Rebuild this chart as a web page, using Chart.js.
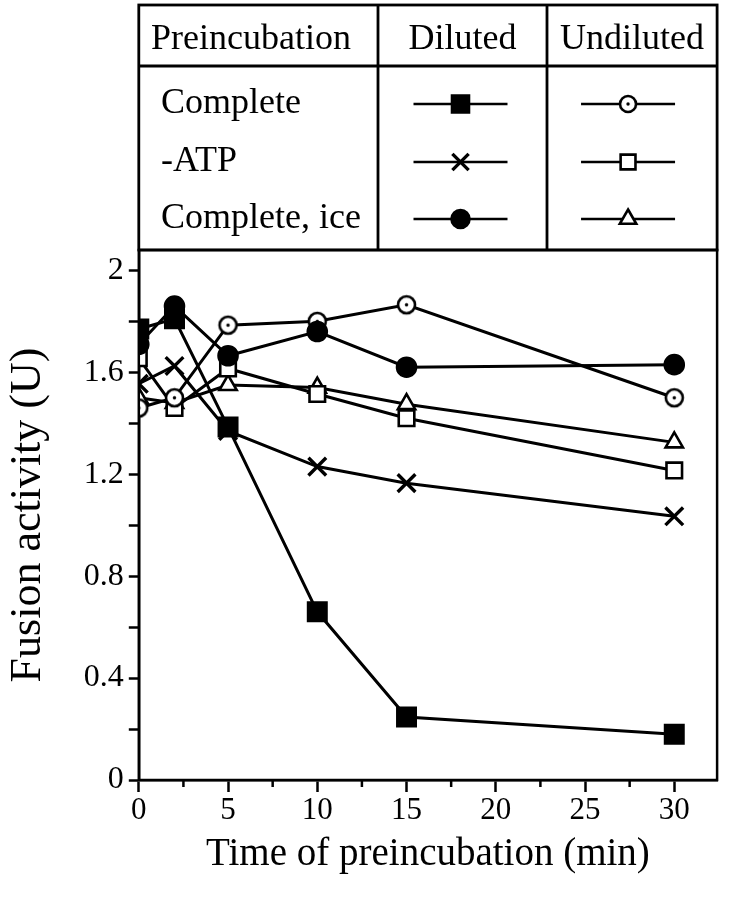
<!DOCTYPE html>
<html>
<head>
<meta charset="utf-8">
<script src="https://cdn.jsdelivr.net/npm/chart.js@4"></script>
<style>
  html, body { margin: 0; padding: 0; background: #fff; }
  #wrap { width: 733px; height: 899px; }
</style>
</head>
<body>
<div id="wrap"><canvas id="fusionCht" width="733" height="899"></canvas></div>
<script>
// data
const times = [0, 2, 5, 10, 15, 30];
const dilComplete = [1.77, 1.81, 1.385, 0.66, 0.247, 0.18];
const dilNoATP = [1.555, 1.625, 1.37, 1.23, 1.165, 1.035];
const dilIce = [1.71, 1.86, 1.665, 1.76, 1.62, 1.63];
const undilComplete = [1.46, 1.50, 1.785, 1.80, 1.865, 1.50];
const undilNoATP = [1.655, 1.46, 1.615, 1.515, 1.42, 1.215];
const undilIce = [1.50, 1.48, 1.55, 1.54, 1.475, 1.325];

const rowLabels = ['Complete', '-ATP', 'Complete, ice'];
const headLabels = ['Preincubation', 'Diluted', 'Undiluted'];

const serif = "'Liberation Serif', 'Times New Roman', serif";

// open circle with a dot in the middle
function dotCircle(r) {
    let s = Math.ceil(r * 2 + 6);
    let c = document.createElement('canvas');
    c.width = s; c.height = s;
    let g = c.getContext('2d');
    g.fillStyle = '#fff';
    g.strokeStyle = '#000';
    g.lineWidth = 2.6;
    g.beginPath();
    g.arc(s / 2, s / 2, r, 0, Math.PI * 2);
    g.fill();
    g.stroke();
    g.fillStyle = '#000';
    g.beginPath();
    g.arc(s / 2, s / 2, 1.7, 0, Math.PI * 2);
    g.fill();
    return c;
}
const dotCircleImg = dotCircle(8.5);
const dotCircleSmall = dotCircle(8);

function pts(vals) {
    return vals.map(function(v, i) { return { x: times[i], y: v }; });
}

function series(label, vals, style, radius, fill) {
    return {
        label: label,
        data: pts(vals),
        borderColor: '#000',
        borderWidth: 3,
        pointStyle: style,
        pointRadius: radius,
        pointHoverRadius: radius,
        pointBackgroundColor: fill,
        pointBorderColor: '#000',
        pointBorderWidth: style === 'crossRot' ? 3.4 : 2.6,
        tension: 0
    };
}

const dsDil = [
    series('Diluted Complete', dilComplete, 'rect', 13, '#000'),
    series('Diluted -ATP', dilNoATP, 'crossRot', 12.5, '#000'),
    series('Diluted Complete, ice', dilIce, 'circle', 9.5, '#000')
];
const dsUndil = [
    series('Undiluted Complete', undilComplete, dotCircleImg, 9, '#fff'),
    series('Undiluted -ATP', undilNoATP, 'rect', 11, '#fff'),
    series('Undiluted Complete, ice', undilIce, 'triangle', 10, '#fff')
];
const legendStyles = [
    [dsDil[0], 'rect', 12], [dsUndil[0], dotCircleSmall, 8],
    [dsDil[1], 'crossRot', 11.5], [dsUndil[1], 'rect', 10.5],
    [dsDil[2], 'circle', 9], [dsUndil[2], 'triangle', 9.5]
];

const tablePlugin = {
    id: 'tableFrame',
    afterDraw(chart) {
        const ctx = chart.ctx;
        const a = chart.chartArea;
        const xs = chart.scales.x;
        ctx.save();
        ctx.strokeStyle = '#000';
        ctx.lineWidth = 2.5;
        // plot frame
        ctx.strokeRect(a.left, a.top, a.right - a.left, a.bottom - a.top);
        // minor x ticks
        xs.ticks.forEach(function(t) {
            if (t.value % 5 !== 0) {
                let px = xs.getPixelForValue(t.value);
                ctx.beginPath();
                ctx.moveTo(px, a.bottom);
                ctx.lineTo(px, a.bottom + 7);
                ctx.stroke();
            }
        });

        // legend table
        const top = 5, headY = 66, col1 = 378, col2 = 547;
        ctx.lineWidth = 2.8;
        ctx.strokeRect(a.left, top, a.right - a.left, a.top - top);
        ctx.beginPath();
        ctx.moveTo(a.left, headY); ctx.lineTo(a.right, headY);
        ctx.moveTo(col1, top); ctx.lineTo(col1, a.top);
        ctx.moveTo(col2, top); ctx.lineTo(col2, a.top);
        ctx.stroke();

        ctx.fillStyle = '#000';
        ctx.font = '36px ' + serif;
        ctx.textBaseline = 'middle';
        ctx.textAlign = 'left';
        ctx.fillText(headLabels[0], 151, 40);
        ctx.textAlign = 'center';
        ctx.fillText(headLabels[1], (col1 + col2) / 2, 40);
        ctx.fillText(headLabels[2], (col2 + a.right) / 2, 40);

        const rowY = [104, 162, 219];
        const dilX = (col1 + col2) / 2 - 2;
        const undilX = (col2 + a.right) / 2 - 4;
        rowY.forEach(function(y, i) {
            ctx.textAlign = 'left';
            ctx.fillStyle = '#000';
            ctx.fillText(rowLabels[i], 161, y);
            [[dilX, legendStyles[i * 2]], [undilX, legendStyles[i * 2 + 1]]].forEach(function(p) {
                let cx = p[0], ds = p[1][0];
                ctx.lineWidth = 2.6;
                ctx.strokeStyle = '#000';
                ctx.beginPath();
                ctx.moveTo(cx - 47, y); ctx.lineTo(cx + 47, y);
                ctx.stroke();
                ctx.fillStyle = ds.pointBackgroundColor;
                ctx.lineWidth = ds.pointBorderWidth;
                Chart.helpers.drawPoint(ctx, {
                    pointStyle: p[1][1],
                    radius: p[1][2],
                    rotation: 0,
                    borderWidth: ds.pointBorderWidth
                }, cx, y);
            });
        });
        ctx.restore();
    }
};

var ctx = document.getElementById('fusionCht');
var fusionChart = new Chart(ctx, {
    type: 'line',
    data: {
        datasets: dsDil.concat(dsUndil)
    },
    options: {
        responsive: false,
        animation: false,
        devicePixelRatio: 1,
        layout: {
            padding: { top: 250, right: 6, left: 0, bottom: 12 }
        },
        plugins: {
            legend: { display: false },
            tooltip: { enabled: false }
        },
        scales: {
            x: {
                type: 'linear',
                min: 0,
                max: 32.4,
                afterFit: function(s) { s.height = 899 - 12 - 780; },
                border: { display: true, color: '#000', width: 2.5 },
                grid: {
                    drawOnChartArea: false,
                    drawTicks: true,
                    tickLength: 12,
                    tickWidth: 2.5,
                    tickColor: function(c) {
                        return c.tick && c.tick.value % 5 === 0 ? '#000' : 'rgba(0,0,0,0)';
                    }
                },
                ticks: {
                    stepSize: 2.5,
                    includeBounds: false,
                    autoSkip: false,
                    maxRotation: 0,
                    color: '#000',
                    padding: 0,
                    font: { family: serif, size: 31 },
                    callback: function(v) { return v % 5 === 0 ? String(v) : ''; }
                },
                title: {
                    display: true,
                    text: 'Time of preincubation (min)',
                    color: '#000',
                    font: { family: serif, size: 39 },
                    padding: { top: 0, bottom: 9 }
                }
            },
            y: {
                min: 0,
                max: 2.08,
                afterFit: function(s) { s.width = 138.8; },
                border: { display: true, color: '#000', width: 2.5 },
                grid: {
                    drawOnChartArea: false,
                    drawTicks: true,
                    tickLength: 10,
                    tickWidth: 2.5,
                    tickColor: '#000'
                },
                ticks: {
                    stepSize: 0.2,
                    includeBounds: false,
                    autoSkip: false,
                    color: '#000',
                    padding: 5,
                    font: { family: serif, size: 32 },
                    callback: function(v) {
                        let r = Math.round(v * 10);
                        return r % 4 === 0 ? (r / 10).toString() : '';
                    }
                },
                title: {
                    display: true,
                    text: 'Fusion activity (U)',
                    color: '#000',
                    font: { family: serif, size: 44 },
                    padding: { top: 2, bottom: 0 }
                }
            }
        }
    },
    plugins: [tablePlugin]
});
</script>
</body>
</html>
